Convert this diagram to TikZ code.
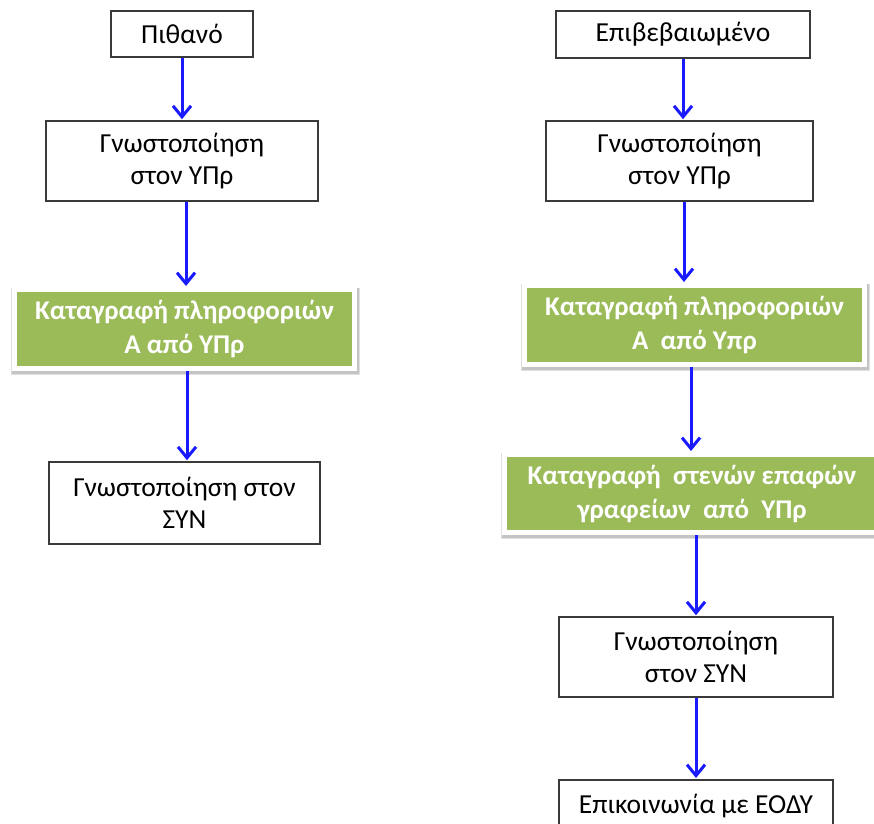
\documentclass[tikz,border=0pt]{standalone}
\usepackage{fontspec}
\setmainfont{Carlito}
\usetikzlibrary{arrows.meta,backgrounds}
\definecolor{boxgreen}{HTML}{9BBB59}
\definecolor{arrblue}{HTML}{1A1AFF}
\definecolor{edgegray}{HTML}{3A3A3A}
\begin{document}
\begin{tikzpicture}[x=1pt,y=-1pt,
  plain/.style={draw=edgegray, line width=1.6pt, fill=white, align=center, inner sep=0pt,
    font=\fontsize{27.5}{32}\selectfont},
  greenbox/.style={fill=boxgreen, draw=white, line width=5pt, align=center, inner sep=0pt,
    text=white, font=\bfseries\fontsize{27}{34}\selectfont},
  shade1/.style={fill=black, opacity=0.12},
  arr/.style={draw=arrblue, line width=3pt, -{Straight Barb[length=11pt,width=18pt,line width=3pt]}, shorten >=1pt}
]
\useasboundingbox (0,0) rectangle (874,823);
\clip (0,0) rectangle (874,823);

% left column
\node[plain, minimum width=142pt, minimum height=46pt] (p1) at (182,34) {Πιθανό};
\node[plain, minimum width=272pt, minimum height=80pt] (p2) at (182,161) {Γνωστοποίηση\\στον ΥΠρ};
\node[greenbox, minimum width=340pt, minimum height=79pt] (p3) at (184.5,329) {Καταγραφή πληροφοριών\\Α από ΥΠρ};
\node[plain, minimum width=271pt, minimum height=82pt] (p4) at (184.5,503) {Γνωστοποίηση στον\\ΣΥΝ};

% right column
\node[plain, minimum width=254pt, minimum height=47pt] (r1) at (683,34.5) {Επιβεβαιωμένο};
\node[plain, minimum width=267pt, minimum height=80pt] (r2) at (679.5,161) {Γνωστοποίηση\\στον ΥΠρ};
\node[greenbox, minimum width=340pt, minimum height=79pt] (r3) at (694.5,325) {Καταγραφή πληροφοριών\\Α\ \ από Υπρ};
\node[greenbox, minimum width=375pt, minimum height=78pt] (r4) at (692,493.5) {Καταγραφή\ \ στενών επαφών\\γραφείων\ \ από\ \ ΥΠρ};
\node[plain, minimum width=274pt, minimum height=80pt] (r5) at (696,657) {Γνωστοποίηση\\στον ΣΥΝ};
\node[plain, minimum width=274pt, minimum height=56pt, anchor=north] (r6) at (696,779) {\raisebox{9pt}{Επικοινωνία με ΕΟΔΥ}};

% soft shadows of the green boxes
\begin{scope}[on background layer]
\fill[white] (0,0) rectangle (874,823);
\foreach \b in {p3,r3,r4}{
  \fill[shade1] ([xshift=-1pt,yshift=-4pt]\b.south west) rectangle ([xshift=3pt,yshift=-1pt]\b.north east);
  \fill[shade1] ([xshift=0pt,yshift=-2.5pt]\b.south west) rectangle ([xshift=1.5pt,yshift=-1pt]\b.north east);
}
\end{scope}

% arrow x positions
\coordinate (la) at (182,0);
\coordinate (lb) at (186,0);
\coordinate (lc) at (187,0);
\coordinate (ra) at (683,0);
\coordinate (rb) at (684,0);
\coordinate (rc) at (691,0);
\coordinate (rd) at (696,0);

\draw[arr] (p1.south -| la) -- (p2.north -| la);
\draw[arr] (p2.south -| lb) -- (p3.north -| lb);
\draw[arr] (p3.south -| lc) -- (p4.north -| lc);

\draw[arr] (r1.south -| ra) -- (r2.north -| ra);
\draw[arr] (r2.south -| rb) -- (r3.north -| rb);
\draw[arr] (r3.south -| rc) -- (r4.north -| rc);
\draw[arr] (r4.south -| rd) -- (r5.north -| rd);
\draw[arr] (r5.south -| rd) -- (r6.north -| rd);
\end{tikzpicture}
\end{document}
